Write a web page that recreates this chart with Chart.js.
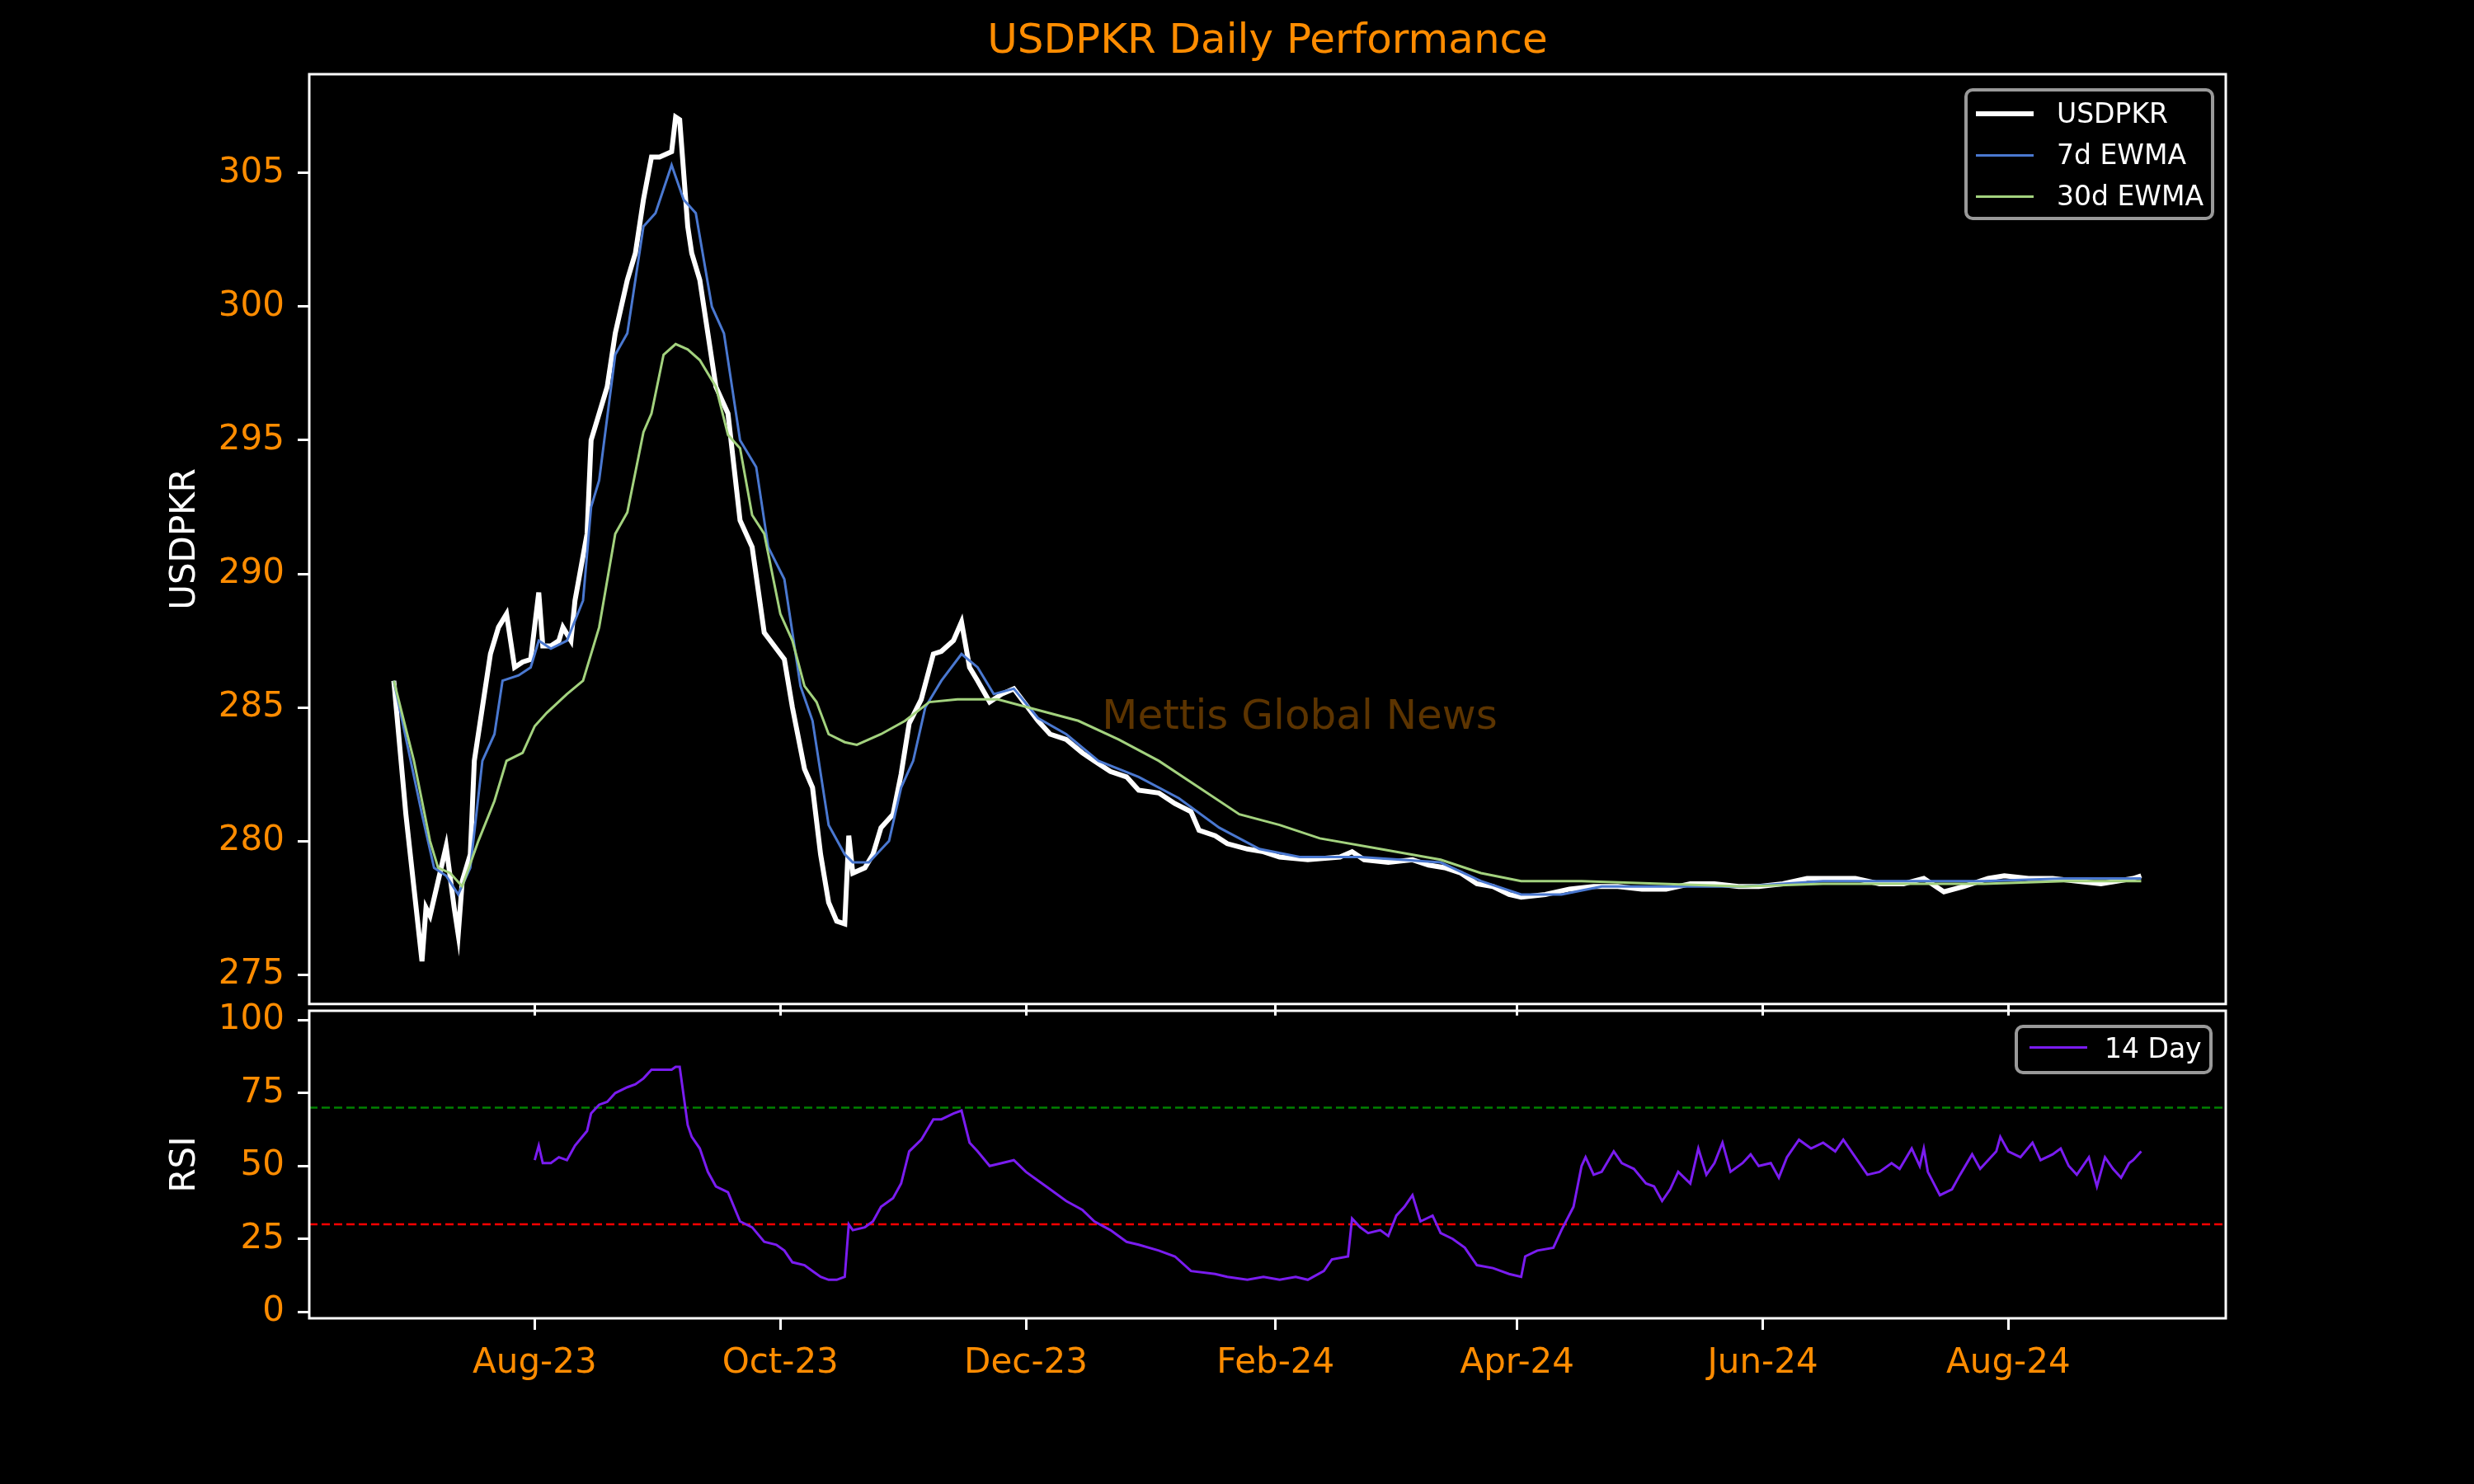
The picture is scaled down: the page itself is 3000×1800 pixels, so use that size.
<!DOCTYPE html>
<html><head><meta charset="utf-8">
<script src="https://cdn.jsdelivr.net/npm/chart.js@4"></script>
<style>
html,body{margin:0;padding:0;background:#000;width:3000px;height:1800px;overflow:hidden;font-family:"DejaVu Sans";}
canvas{position:absolute;left:0;}
#title{position:absolute;top:18px;left:375px;width:2324px;text-align:center;color:#ff8c00;font-size:50px;}
.leg{position:absolute;border:4px solid #999;border-radius:10px;background:#000;color:#fff;font-size:33px;}
.row{position:relative;height:50px;line-height:50px;padding-left:108px;}
.row i{position:absolute;left:10px;top:24px;width:70px;}
</style></head><body>
<div id="title">USDPKR Daily Performance</div>
<canvas id="c1" width="3000" height="1259" style="top:0;width:3000px;height:1259px"></canvas>
<canvas id="c2" width="3000" height="620" style="top:1180px;width:3000px;height:620px"></canvas>
<div class="leg" style="left:2382px;top:107px;width:295px;height:152px;">
 <div class="row" style="margin-top:2px"><i style="border-top:6px solid #fff;top:22px"></i>USDPKR</div>
 <div class="row"><i style="border-top:3px solid #4a78d0"></i>7d EWMA</div>
 <div class="row"><i style="border-top:3px solid #a3d27e"></i>30d EWMA</div>
</div>
<div class="leg" style="left:2443px;top:1243px;width:232px;height:52px;">
 <div class="row" style="padding-left:105px"><i style="border-top:3px solid #7a1cf0;top:22px;left:14px;width:70px"></i>14 Day</div>
</div>
<script>
// x values: days since 2023-08-01
const tickDays = [0, 61, 122, 184, 244, 305, 366];
const tickLabels = ['Aug-23','Oct-23','Dec-23','Feb-24','Apr-24','Jun-24','Aug-24'];
const priceDays = [-35,-32,-28,-27,-26,-24,-22,-20,-19,-18,-16,-15,-13,-11,-9,-7,-5,-3,-1,1,2,4,6,7,9,10,13,14,16,18,20,23,25,27,29,31,34,35,36,38,39,41,43,45,48,51,54,57,60,62,64,67,69,71,73,75,77,78,79,82,84,86,89,91,93,96,99,101,104,106,108,110,113,116,119,122,125,128,132,136,139,143,147,150,155,159,163,165,169,172,177,181,185,192,200,203,206,212,218,222,226,230,234,238,242,245,251,257,263,269,275,281,287,293,299,304,310,316,322,328,334,340,345,350,355,361,365,371,377,383,389,393,397,399];
const priceVals = [286,281,275.5,277.5,277.2,278.5,279.8,277.5,276.5,278.5,279.5,283,285,287,288,288.5,286.5,286.7,286.8,289.3,287.3,287.3,287.5,288,287.5,289,291.5,295,296,297,299,301,302,304,305.6,305.6,305.8,307.1,307,303,302,301,299,297,296,292,291,287.8,287.2,286.8,285,282.7,282,279.5,277.7,277,276.9,280.2,278.8,279,279.5,280.5,281,282.5,284.4,285.3,287,287.1,287.5,288.2,286.5,286,285.2,285.5,285.7,285.1,284.5,284,283.8,283.3,283,282.6,282.4,281.9,281.8,281.4,281.1,280.4,280.2,279.9,279.7,279.6,279.4,279.3,279.4,279.6,279.3,279.2,279.3,279.1,279,278.8,278.4,278.3,278,277.9,278,278.2,278.3,278.3,278.2,278.2,278.4,278.4,278.3,278.3,278.4,278.6,278.6,278.6,278.4,278.4,278.6,278.1,278.3,278.6,278.7,278.6,278.6,278.5,278.4,278.5,278.6,278.7];
const ewma7Days = [-35,-28,-25,-22,-19,-16,-13,-10,-8,-4,-1,1,4,8,12,14,16,20,23,27,30,34,37,40,44,47,51,55,58,62,66,69,73,77,79,83,88,91,94,97,101,106,110,114,119,125,132,140,150,160,170,180,190,205,215,225,235,245,255,265,280,300,320,340,360,380,399];
const ewma7Vals = [286,281,279,278.7,278,279,283,284,286,286.2,286.5,287.5,287.2,287.5,289,292.5,293.5,298.2,299,303,303.5,305.3,304,303.5,300,299,295,294,291,289.8,285.8,284.5,280.6,279.5,279.2,279.2,280,282,283,285,286,287,286.5,285.5,285.7,284.6,284,283,282.4,281.6,280.5,279.7,279.4,279.4,279.3,279.2,278.5,278,278,278.3,278.3,278.3,278.5,278.5,278.5,278.6,278.6];
const ewma30Days = [-35,-30,-26,-24,-21,-18,-14,-10,-7,-3,0,3,8,12,16,20,23,27,29,32,35,38,41,45,48,51,54,57,61,64,67,70,73,77,80,86,92,98,105,115,125,135,145,155,165,175,185,195,210,225,235,245,260,280,300,320,340,360,380,399];
const ewma30Vals = [286,283,280,279,278.8,278.3,280,281.5,283,283.3,284.3,284.8,285.5,286,288,291.5,292.3,295.3,296,298.2,298.6,298.4,298,297,295.2,294.7,292.2,291.5,288.5,287.5,285.8,285.2,284,283.7,283.6,284,284.5,285.2,285.3,285.3,284.9,284.5,283.8,283,282,281,280.6,280.1,279.7,279.3,278.8,278.5,278.5,278.4,278.3,278.4,278.4,278.4,278.5,278.5];
const rsiDays = [0,1,2,4,6,8,10,13,14,16,18,20,23,25,27,29,31,34,35,36,38,39,41,43,45,48,51,54,57,60,62,64,67,69,71,73,75,77,78,79,82,84,86,89,91,93,96,99,101,104,106,108,110,113,116,119,122,125,128,132,136,139,143,147,150,155,159,163,169,172,177,181,185,189,192,196,198,202,203,205,207,210,212,214,216,218,220,223,225,228,231,234,238,242,245,246,249,253,255,258,260,261,263,265,268,270,273,276,278,280,282,284,287,289,291,293,295,297,300,302,304,307,309,311,314,317,320,323,325,328,331,334,337,339,342,344,345,346,349,352,354,357,359,363,364,366,369,372,374,377,379,381,383,386,388,390,392,394,396,397,399];
const rsiVals = [52,57,51,51,53,52,57,62,68,71,72,75,77,78,80,83,83,83,84,84,64,60,56,48,43,41,31,29,24,23,21,17,16,14,12,11,11,12,30,28,29,31,36,39,44,55,59,66,66,68,69,58,55,50,51,52,48,45,42,38,35,31,28,24,23,21,19,14,13,12,11,12,11,12,11,14,18,19,32,29,27,28,26,33,36,40,31,33,27,25,22,16,15,13,12,19,21,22,28,36,50,53,47,48,55,51,49,44,43,38,42,48,44,56,47,51,58,48,51,54,50,51,46,53,59,56,58,55,59,53,47,48,51,49,56,50,56,48,40,42,47,54,49,55,60,55,53,58,52,54,56,50,47,53,43,53,49,46,51,52,55];
const overbought = 70, oversold = 30;

const pts = (xs, ys) => xs.map((x, i) => ({x, y: ys[i]}));
const ORANGE = '#ff8c00';
const FONT = {family: 'DejaVu Sans', size: 42};
const frame = {id: 'frame', afterDatasetsDraw(c) {
  const a = c.chartArea, ctx = c.ctx; ctx.save();
  ctx.strokeStyle = '#fff'; ctx.lineWidth = 3; ctx.strokeRect(a.left, a.top, a.right - a.left, a.bottom - a.top);
  ctx.restore();
}};
const mark = {id: 'mark', afterDatasetsDraw(c) {
  const ctx = c.ctx; ctx.save();
  ctx.fillStyle = '#5c3400'; ctx.font = '50px "DejaVu Sans"'; ctx.textAlign = 'center'; ctx.textBaseline = 'middle';
  ctx.fillText('Mettis Global News', c.scales.x.getPixelForValue(190), c.scales.y.getPixelForValue(284.6));
  ctx.restore();
}};
function xAxis(showLabels, h) {
  return {type: 'linear', min: -56, max: 420,
    afterBuildTicks: s => { s.ticks = tickDays.map(v => ({value: v})); },
    afterFit: s => { s.height = h; },
    ticks: {display: showLabels, color: ORANGE, font: FONT, padding: 16, maxRotation: 0, autoSkip: false,
      callback: (v) => tickLabels[tickDays.indexOf(v)]},
    grid: {drawOnChartArea: false, color: '#fff', lineWidth: 3, tickLength: 14, tickColor: '#fff'},
    border: {display: false}};
}
function yAxis(min, max, ticks, title) {
  return {min, max,
    afterBuildTicks: s => { s.ticks = ticks.map(v => ({value: v})); },
    afterFit: s => { s.width = 175; },
    ticks: {color: ORANGE, font: FONT, padding: 16},
    grid: {drawOnChartArea: false, color: '#fff', lineWidth: 3, tickLength: 14, tickColor: '#fff'},
    border: {display: false},
    title: {display: true, text: title, color: '#fff', font: FONT, padding: 0}};
}
const common = {responsive: false, animation: false, devicePixelRatio: 1,
  plugins: {legend: {display: false}, tooltip: {enabled: false}},
  elements: {point: {radius: 0}, line: {tension: 0}}};

new Chart(document.getElementById('c1'), {type: 'line',
  data: {datasets: [
    {data: pts(ewma30Days, ewma30Vals), borderColor: '#a3d27e', borderWidth: 3},
    {data: pts(ewma7Days, ewma7Vals), borderColor: '#4a78d0', borderWidth: 3},
    {data: pts(priceDays, priceVals), borderColor: '#fff', borderWidth: 6}]},
  options: {...common, layout: {autoPadding: false, padding: {top: 90, right: 301, left: 200, bottom: 0}},
    scales: {x: xAxis(false, 15), y: yAxis(273.9, 308.7, [275,280,285,290,295,300,305], 'USDPKR')}},
  plugins: [frame, mark]});

new Chart(document.getElementById('c2'), {type: 'line',
  data: {datasets: [
    {data: pts(rsiDays, rsiVals), borderColor: '#7a1cf0', borderWidth: 3},
    {data: [{x: -56, y: overbought}, {x: 420, y: overbought}], borderColor: '#008000', borderWidth: 2.5, borderDash: [10, 5]},
    {data: [{x: -56, y: oversold}, {x: 420, y: oversold}], borderColor: '#ff0000', borderWidth: 2.5, borderDash: [10, 5]}]},
  options: {...common, layout: {autoPadding: false, padding: {top: 46, right: 301, left: 200, bottom: 0}},
    scales: {x: xAxis(true, 201), y: yAxis(-2.2, 103.2, [0,25,50,75,100], 'RSI')}},
  plugins: [frame]});
</script></body></html>
